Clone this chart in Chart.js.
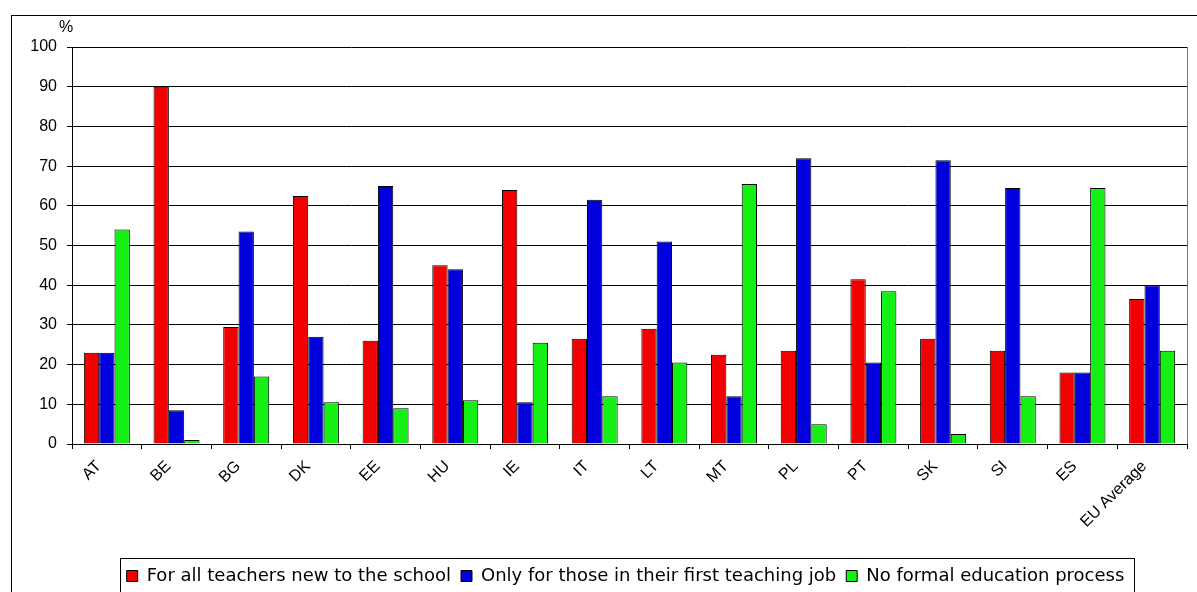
<!DOCTYPE html>
<html>
<head>
<meta charset="utf-8">
<script src="https://cdn.jsdelivr.net/npm/chart.js@4.4.1/dist/chart.umd.min.js"></script>
<style>
  html, body { margin: 0; padding: 0; background: #fff; overflow: hidden; }
</style>
</head>
<body>
<canvas id="chart" width="1197" height="595"></canvas>
<script>
// ---- data ----
const countries = ["AT", "BE", "BG", "DK", "EE", "HU", "IE", "IT", "LT", "MT", "PL", "PT", "SK", "SI", "ES", "EU Average"];
const allNewTeachers = [23, 90, 29.5, 62.5, 26, 45, 64, 26.5, 29, 22.5, 23.5, 41.5, 26.5, 23.5, 18, 36.5];
const firstJobOnly = [23, 8.5, 53.5, 27, 65, 44, 10.5, 61.5, 51, 12, 72, 20.5, 71.5, 64.5, 18, 40];
const noFormalProcess = [54, 1, 17, 10.5, 9, 11, 25.5, 12, 20.5, 65.5, 5, 38.5, 2.5, 12, 64.5, 23.5];
const seriesNames = [
    "For all teachers new to the school",
    "Only for those in their first teaching job",
    "No formal education process"
];
const yTicks = [0, 10, 20, 30, 40, 50, 60, 70, 80, 90, 100];
const unitLabel = "%";

const ARIAL = '"Liberation Sans", Arial, sans-serif';

// frame round the whole chart, right edge of the plot, unit label and legend box
const decorations = {
    id: "decorations",
    afterLayout(chart) {
        // legend sits a little right of the canvas centre in the original
        const lg = chart.legend;
        lg.left += 32;
        lg.right += 32;
    },
    beforeDraw(chart) {
        const ctx = chart.ctx;
        ctx.save();
        ctx.strokeStyle = "#000";
        ctx.lineWidth = 1;
        ctx.strokeRect(11.5, 15.5, 1400, 800);
        ctx.restore();
    },
    afterDraw(chart) {
        const { ctx, chartArea: a, legend } = chart;
        ctx.save();
        ctx.strokeStyle = "#777";
        ctx.lineWidth = 1;
        ctx.beginPath();
        ctx.moveTo(a.right + 0.5, a.top);
        ctx.lineTo(a.right + 0.5, a.bottom);
        ctx.stroke();

        ctx.fillStyle = "#000";
        ctx.font = "16px " + ARIAL;
        ctx.textAlign = "center";
        ctx.textBaseline = "middle";
        ctx.fillText(unitLabel, a.left - 6, a.top - 19);

        const hb = legend.legendHitBoxes;
        if (hb && hb.length) {
            const first = hb[0], last = hb[hb.length - 1];
            const x0 = Math.round(first.left - 7) + 0.5;
            const x1 = Math.round(last.left + last.width + 10) + 0.5;
            const y0 = Math.round(first.top - 9) + 0.5;
            ctx.strokeStyle = "#000";
            ctx.strokeRect(x0, y0, x1 - x0, 200);
        }
        ctx.restore();
    }
};

const ctx = document.getElementById("chart");

new Chart(ctx, {
    type: "bar",
    data: {
        labels: countries,
        datasets: [
            { label: seriesNames[0], data: allNewTeachers, backgroundColor: "#f20000" },
            { label: seriesNames[1], data: firstJobOnly, backgroundColor: "#0000dc" },
            { label: seriesNames[2], data: noFormalProcess, backgroundColor: "#14f014" }
        ].map(d => Object.assign(d, {
            borderColor: "#000",
            borderWidth: 1,
            categoryPercentage: 0.66,
            barPercentage: 1
        }))
    },
    options: {
        responsive: false,
        animation: false,
        layout: { padding: { top: 47, left: 0, right: 10, bottom: 0 } },
        plugins: {
            tooltip: { enabled: false },
            legend: {
                position: "bottom",
                labels: {
                    boxWidth: 11,
                    boxHeight: 11,
                    padding: 10,
                    color: "#000",
                    font: { family: '"DejaVu Sans", sans-serif', size: 18 }
                }
            }
        },
        scales: {
            x: {
                grid: {
                    offset: true,
                    drawOnChartArea: false,
                    drawTicks: true,
                    tickLength: 5,
                    color: "#000"
                },
                border: { color: "#000", width: 1 },
                ticks: {
                    minRotation: 45,
                    maxRotation: 45,
                    autoSkip: false,
                    padding: 8,
                    labelOffset: -8,
                    color: "#000",
                    font: { family: ARIAL, size: 16 }
                },
                afterFit(s) { s.height = 113; }
            },
            y: {
                min: 0,
                max: 100,
                afterBuildTicks(s) { s.ticks = yTicks.map(v => ({ value: v })); },
                grid: { color: "#000", lineWidth: 1, tickLength: 5 },
                border: { color: "#000", width: 1 },
                ticks: {
                    padding: 10,
                    color: "#000",
                    font: { family: ARIAL, size: 16 }
                },
                afterFit(s) { s.width = 72; }
            }
        }
    },
    plugins: [decorations]
});
</script>
</body>
</html>
